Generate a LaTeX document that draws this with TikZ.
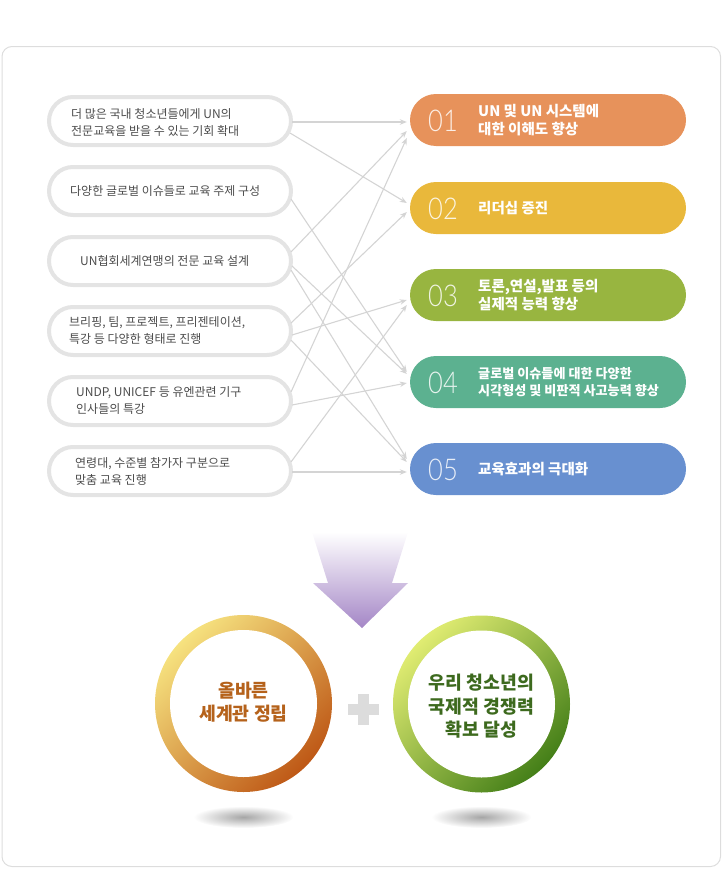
\documentclass[tikz,border=0pt]{standalone}
\usepackage{fontspec}
\usetikzlibrary{arrows.meta}
\setmainfont{Noto Sans CJK KR}
\IfFontExistsTF{Lato Light}{\newfontfamily\numfont{Lato Light}[FakeStretch=0.85]}{%
    \newfontfamily\numfont{Lato}[FakeStretch=0.85]}
\definecolor{panelline}{HTML}{DDDDDD}
\definecolor{pillline}{HTML}{E4E4E4}
\definecolor{ltxt}{HTML}{4C4C4C}
\definecolor{connc}{HTML}{D4D4D4}
\definecolor{cA}{HTML}{E7925B}
\definecolor{cB}{HTML}{E9B83B}
\definecolor{cC}{HTML}{98B540}
\definecolor{cD}{HTML}{5CB190}
\definecolor{cE}{HTML}{6890D0}
\definecolor{arrowpurple}{HTML}{A486C6}
\definecolor{ringAl}{HTML}{F6E27F}
\definecolor{ringAd}{HTML}{BE5816}
\definecolor{ringBl}{HTML}{E0EC72}
\definecolor{ringBd}{HTML}{447F18}
\definecolor{txtA}{HTML}{B5621B}
\definecolor{txtB}{HTML}{3D6A1E}
\definecolor{plusgray}{HTML}{DCDCDC}
\tikzset{
  lpill/.style={draw=pillline, line width=4pt, fill=white, rounded corners=24pt,
    minimum width=242pt, minimum height=48pt, inner sep=0pt},
  ltext/.style={font=\fontsize{12}{17}\selectfont, text=ltxt, align=left, inner sep=0pt, anchor=west},
  rpill/.style={fill=#1, rounded corners=26pt, minimum width=276pt, minimum height=52pt, inner sep=0pt},
  numtext/.style={font=\numfont\fontsize{30}{30}\selectfont, text=white, text opacity=0.85, inner sep=0pt},
  rtext/.style={font=\bfseries\fontsize{14.5}{17.5}\selectfont, text=white, align=left, inner sep=0pt, anchor=west},
  connector/.style={draw=connc, line width=1.1pt, -{Stealth[length=7pt,width=5.5pt]}},
  ctext/.style={font=\bfseries\fontsize{18.3}{23.5}\selectfont, align=center, inner sep=0pt}
}
\begin{document}
\begin{tikzpicture}[x=1pt,y=-1pt]
\useasboundingbox (0,0) rectangle (723,870);
% panel
\draw[panelline, line width=1pt, rounded corners=10pt] (2,46.5) rectangle (720.5,866.5);

% left pills
\node[lpill] (L1) at (170,121) {};
\node[lpill] (L2) at (170,191) {};
\node[lpill] (L3) at (170,261) {};
\node[lpill] (L4) at (170,331) {};
\node[lpill] (L5) at (170,401) {};
\node[lpill] (L6) at (170,471) {};
\node[ltext] (T1) at (71,122) {더 많은 국내 청소년들에게 UN의\\전문교육을 받을 수 있는 기회 확대};
\node[ltext] (T2) at (70,191) {다양한 글로벌 이슈들로 교육 주제 구성};
\node[ltext] (T3) at (80,261) {UN협회세계연맹의 전문 교육 설계};
\node[ltext] (T4) at (69,331) {브리핑, 팀, 프로젝트, 프리젠테이션,\\특강 등 다양한 형태로 진행};
\node[ltext] (T5) at (76,401) {UNDP, UNICEF 등 유엔관련 기구\\인사들의 특강};
\node[ltext] (T6) at (75,471) {연령대, 수준별 참가자 구분으로\\맞춤 교육 진행};

% right pills
\node[rpill=cA] (R1) at (548,120) {};
\node[rpill=cB] (R2) at (548,208) {};
\node[rpill=cC] (R3) at (548,295) {};
\node[rpill=cD] (R4) at (548,382) {};
\node[rpill=cE] (R5) at (548,469) {};
\node[numtext] (N1) at (443,121) {01};
\node[numtext] (N2) at (443,209) {02};
\node[numtext] (N3) at (443,296) {03};
\node[numtext] (N4) at (443,383) {04};
\node[numtext] (N5) at (443,470) {05};
\node[rtext] (S1) at (478,120) {UN 및 UN 시스템에\\대한 이해도 향상};
\node[rtext] (S2) at (478,208) {리더십 증진};
\node[rtext] (S3) at (478,295) {토론,연설,발표 등의\\실제적 능력 향상};
\node[rtext, font=\bfseries\fontsize{13.1}{17.5}\selectfont] (S4) at (478,382) {글로벌 이슈들에 대한 다양한\\시각형성 및 비판적 사고능력 향상};
\node[rtext] (S5) at (478,469) {교육효과의 극대화};

% connectors
\draw[connector] ([xshift=-1pt,yshift=-1pt]L1.east) -- ([xshift=-3pt,yshift=-2pt]R1.west);
\draw[connector] ([xshift=-3pt,yshift=-12pt]L1.east) -- ([xshift=-3pt,yshift=5pt]R2.west);
\draw[connector] ([xshift=-2pt,yshift=-8pt]L2.east) -- ([xshift=-3pt,yshift=10pt]R4.west);
\draw[connector] ([xshift=-2pt,yshift=9pt]L3.east) -- ([xshift=-3pt,yshift=-11pt]R1.west);
\draw[connector] ([xshift=-1pt,yshift=-5pt]L3.east) -- ([xshift=-3pt,yshift=8pt]R4.west);
\draw[connector] ([xshift=-2pt,yshift=-9pt]L3.east) -- ([xshift=-3pt,yshift=10pt]R5.west);
\draw[connector] ([xshift=-2pt,yshift=8pt]L4.east) -- ([xshift=-3pt,yshift=-4pt]R2.west);
\draw[connector] ([xshift=-1pt,yshift=-4pt]L4.east) -- ([xshift=-3pt,yshift=-5pt]R3.west);
\draw[connector] ([xshift=-2pt,yshift=-9pt]L4.east) -- ([xshift=-3pt,yshift=7pt]R5.west);
\draw[connector] ([xshift=-2pt,yshift=9pt]L5.east) -- ([xshift=-3pt,yshift=-18pt]R1.west);
\draw[connector] ([xshift=-1pt,yshift=-4pt]L5.east) -- ([xshift=-3pt,yshift=-1pt]R4.west);
\draw[connector] ([xshift=-2pt,yshift=9pt]L6.east) -- ([xshift=-3pt,yshift=-10pt]R3.west);
\draw[connector] ([xshift=-1pt,yshift=-1pt]L6.east) -- ([xshift=-3pt,yshift=-3pt]R5.west);

% big down arrow
\shade[top color=white, bottom color=arrowpurple]
  (312,532) -- (408,532) -- (392,583) -- (408,583) -- (362,628) -- (313,583) -- (328,583) -- cycle;

% rings
\shade[top color=ringAl, bottom color=ringAd, shading angle=45] (243.5,703.5) circle (88.5);
\fill[white] (243.5,703.5) circle (73.5);
\shade[top color=ringBl, bottom color=ringBd, shading angle=45] (481.5,704) circle (88.5);
\fill[white] (481.5,704) circle (73.5);
\node[ctext, text=txtA] (C1) at (243.5,702) {올바른\\세계관 정립};
\node[ctext, text=txtB] (C2) at (481.5,706.5) {우리 청소년의\\국제적 경쟁력\\확보 달성};

% plus sign
\fill[plusgray] (347.5,704) rectangle (379,714.5);
\fill[plusgray] (358,693.5) rectangle (368.5,725);

% shadows
\shade[inner color=black!35, outer color=white] (243.5,817) ellipse (50 and 11);
\shade[inner color=black!35, outer color=white] (481.5,817) ellipse (50 and 11);
\end{tikzpicture}
\end{document}
